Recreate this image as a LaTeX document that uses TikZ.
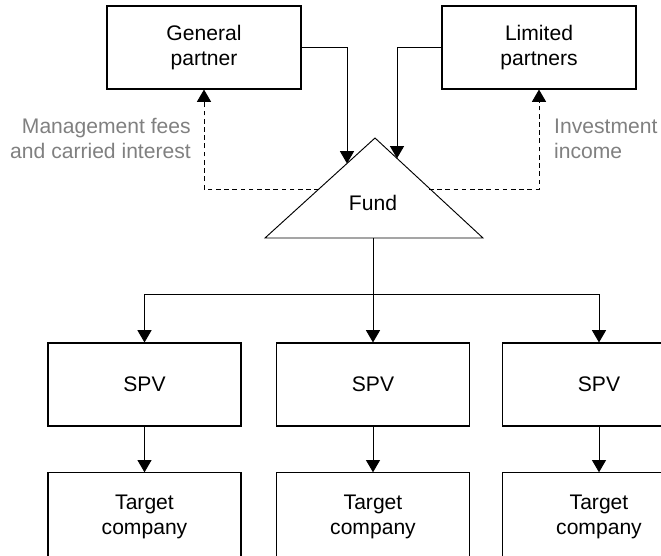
\documentclass[tikz,border=0pt]{standalone}
\usepackage{fontspec}
\setmainfont{Liberation Sans}
\usetikzlibrary{arrows.meta,positioning,calc}

\begin{document}
\begin{tikzpicture}[x=0.03cm, y=-0.03cm,
    every node/.style={font=\fontsize{18}{21.3}\selectfont},
    party/.style={rectangle, draw, line width=0.9pt, minimum width=5.82cm, minimum height=2.49cm, align=center, inner sep=0pt},
    vehicle/.style={rectangle, draw, line width=0.9pt, minimum width=5.79cm, minimum height=2.49cm, align=center, inner sep=0pt},
    target/.style={vehicle, minimum height=2.62cm},
    flowlabel/.style={text=black!50, inner sep=0pt},
    arrow/.style={-{Triangle[width=12pt,length=10.5pt]}, line width=0.8pt},
    payback/.style={arrow, dash pattern=on 4pt off 3pt}
]
    \path[use as bounding box, clip] (0,0) rectangle (661,556);

    % Partners
    \node[party] (gp) at (204,47.5) {General\\partner};
    \node[party] (lp) at (539,47.5) {Limited\\partners};

    % Fund triangle
    \coordinate (fapex) at (375,138);
    \coordinate (fleft) at (265,238);
    \coordinate (fright) at (483,238);
    \draw[line width=0.8pt] (fleft) -- (fapex) -- (fright) -- cycle;
    \node (fund) at (373,203) {Fund};
    \coordinate (fundL) at (347,163.5);
    \coordinate (fundR) at (397,158.4);
    \coordinate (fundDL) at (319,189);
    \coordinate (fundDR) at (429,189);
    \coordinate (fundbase) at (373,238);
    \coordinate (bus) at (373,294);

    % Return flows
    \node[flowlabel, anchor=east, align=right] (fees) at (191,138.5) {Management fees\\and carried interest};
    \node[flowlabel, anchor=west, align=left] (income) at (554,138.5) {Investment\\income};

    % SPVs
    \node[vehicle] (spv1) at (144.5,384.5) {SPV};
    \node[vehicle] (spv2) at (373,384.5) {SPV};
    \node[vehicle] (spv3) at (599,384.5) {SPV};

    % Target companies
    \node[target] (tc1) at (144.5,516.5) {Target\\company};
    \node[target] (tc2) at (373,516.5) {Target\\company};
    \node[target] (tc3) at (599,516.5) {Target\\company};

    % Capital flows
    \draw[arrow] (gp.east) -| (fundL);
    \draw[arrow] (lp.west) -| (fundR);
    \draw[payback] (fundDL) -| (gp.south);
    \draw[payback] (fundDR) -| (lp.south);
    \draw[arrow] (fundbase) -- (spv2.north);
    \draw[arrow] (bus) -| (spv1.north);
    \draw[arrow] (bus) -| (spv3.north);
    \draw[arrow] (spv1) -- (tc1);
    \draw[arrow] (spv2) -- (tc2);
    \draw[arrow] (spv3) -- (tc3);
\end{tikzpicture}
\end{document}
